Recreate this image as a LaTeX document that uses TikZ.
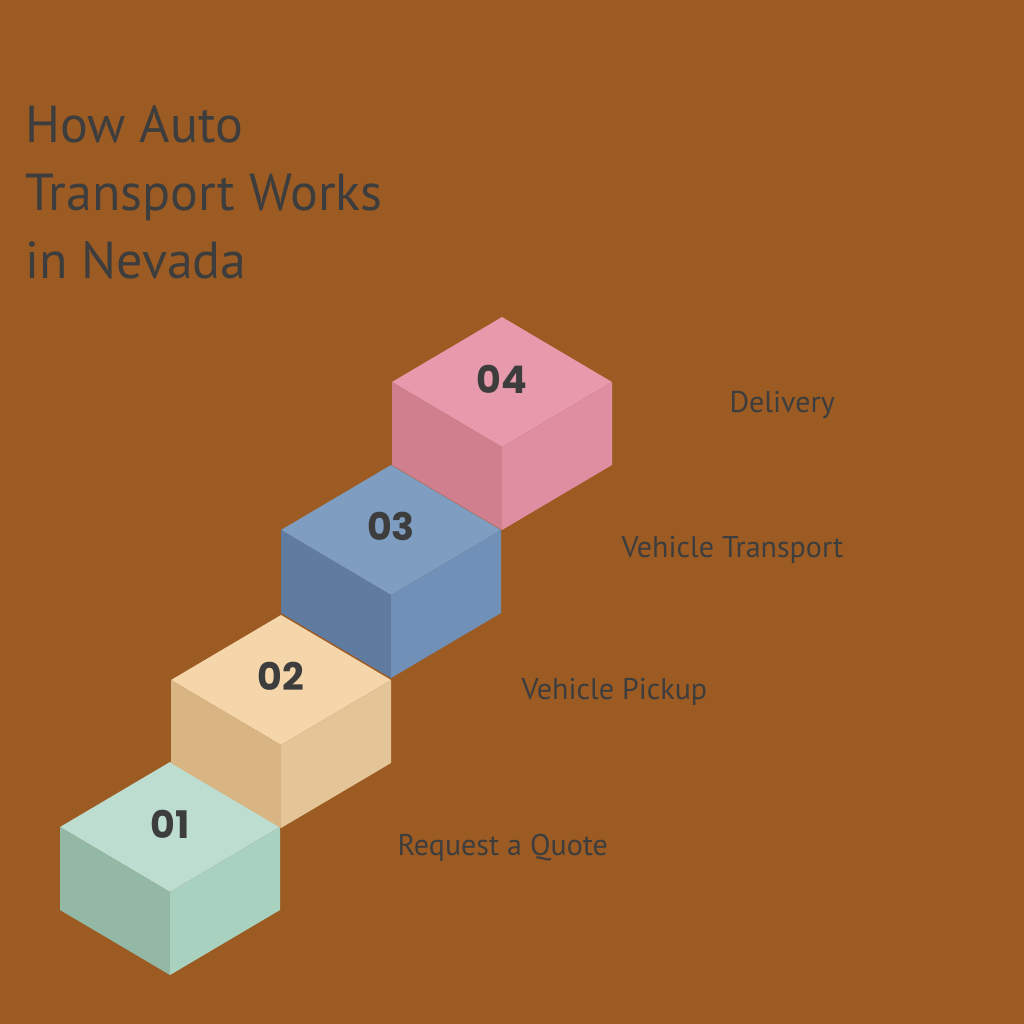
\documentclass[tikz,border=0pt]{standalone}
\usepackage{fontspec}
\setmainfont{PT Sans}
\newfontfamily\numfont{Poppins}
\definecolor{bg}{HTML}{9C5B23}
\definecolor{txt}{HTML}{3D3D3D}
\begin{document}
\begin{tikzpicture}[x=1pt,y=-1pt,
  lbl/.style={text=txt,font=\fontsize{30}{34}\selectfont,anchor=west},
  num/.style={text=txt,font=\numfont\bfseries\fontsize{38}{40}\selectfont}]
\fill[bg] (0,0) rectangle (1024,1024);
\useasboundingbox (0,0) rectangle (1024,1024);
\newcommand\cube[5]{% x of center, y of top-center vertex, top, left, right
  \fill[#3] (#1-110,#2+65) -- (#1,#2) -- (#1+110,#2+65) -- (#1,#2+130) -- cycle;
  \fill[#4] (#1-110,#2+65) -- (#1,#2+130) -- (#1,#2+213) -- (#1-110,#2+148) -- cycle;
  \fill[#5] (#1+110,#2+65) -- (#1,#2+130) -- (#1,#2+213) -- (#1+110,#2+148) -- cycle;}
\definecolor{a1}{HTML}{BCDDCF}\definecolor{a2}{HTML}{93B8A5}\definecolor{a3}{HTML}{A9D1BF}
\definecolor{b1}{HTML}{F5D6AB}\definecolor{b2}{HTML}{DAB584}\definecolor{b3}{HTML}{E3C598}
\definecolor{c1}{HTML}{7E9DC0}\definecolor{c2}{HTML}{5F7BA0}\definecolor{c3}{HTML}{7090B8}
\definecolor{d1}{HTML}{E79AAB}\definecolor{d2}{HTML}{D07F8F}\definecolor{d3}{HTML}{DF8DA0}
\cube{170}{762}{a1}{a2}{a3}
\cube{281}{615}{b1}{b2}{b3}
\cube{391}{465}{c1}{c2}{c3}
\cube{502}{317}{d1}{d2}{d3}
\node[num] (n1) at (170,824) {01};
\node[num] (n2) at (281,676) {02};
\node[num] (n3) at (391,526) {03};
\node[num] (n4) at (502,379) {04};
\node[lbl] (l1) at (394,848) {Request a Quote};
\node[lbl] (l2) at (518,692) {Vehicle Pickup};
\node[lbl] (l3) at (618,550) {Vehicle Transport};
\node[lbl] (l4) at (726,405) {Delivery};
\node[text=txt,font=\fontsize{52}{68}\selectfont,anchor=north west,align=left] (t) at (22,102)
 {How Auto\\Transport Works\\in Nevada};
\end{tikzpicture}
\end{document}
